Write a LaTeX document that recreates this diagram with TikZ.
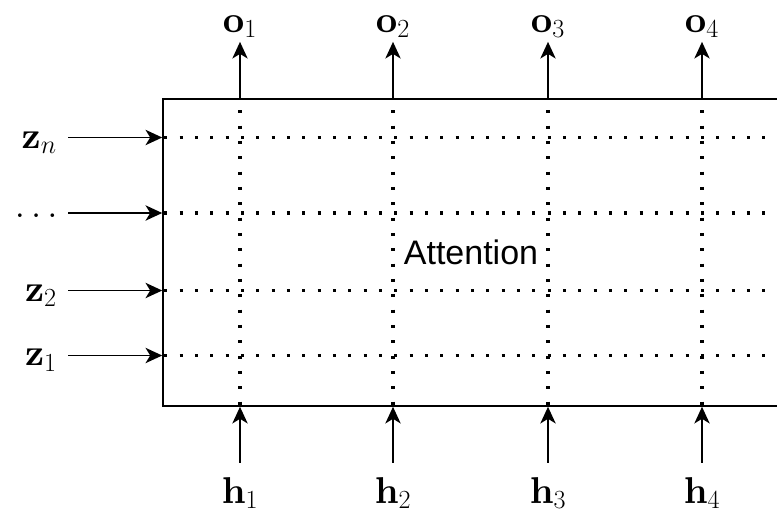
\RequirePackage{fix-cm}
\documentclass[tikz,border=0pt]{standalone}
\usepackage{amsmath}
\usepackage[no-math]{fontspec}
\DeclareFontShape{OT1}{cmr}{bx}{n}{<-> cmbx10}{}
\newfontfamily\attnfont{Liberation Sans}
\usetikzlibrary{positioning,arrows.meta}

\begin{document}
\begin{tikzpicture}[
  x=0.75pt, y=-0.75pt,
  every node/.style={font=\fontsize{28}{34}\selectfont},
  block/.style ={draw, line width=1.2pt, inner sep=0pt,
                 minimum width=462pt, minimum height=230.25pt,
                 font=\attnfont\fontsize{25.5}{30}\selectfont},
  grid/.style  ={line width=2.3pt, dash pattern=on 2.3pt off 9.2pt},
  arr/.style   ={-{Stealth[length=12.5pt,width=11.5pt,inset=3.5pt]},
                 line width=1.2pt},
  inlab/.style ={anchor=base east, inner sep=0pt},
  outlab/.style={anchor=base, inner sep=3pt},
  hlab/.style  ={anchor=base, inner xsep=3pt, inner ysep=10.5pt}
]
\useasboundingbox (0,0) rectangle (777,514);

\node[block] (attn) at (471,252.5) {Attention};

% inputs z on the left
\node[inlab] (zn)    at (57,148)   {$\mathbf{z}_n$};
\node[inlab] (zdots) at (58,217.5) {$\ldots$};
\node[inlab] (z2)    at (57,301)   {$\mathbf{z}_2$};
\node[inlab] (z1)    at (57,365.5) {$\mathbf{z}_1$};

\foreach \r/\y in {n/137.5,dots/213,2/290.5,1/355.5} {
  \coordinate (z\r-in) at (68,\y);
  \draw[arr] (z\r-in) -- (attn.west |- z\r-in);
  \draw[grid, dash phase=10pt] (attn.west |- z\r-in) -- (attn.east |- z\r-in);
}

% inputs h below, outputs o above
\foreach \i/\x in {1/240,2/393,3/548,4/702} {
  \node[hlab]   (h\i) at (\x,503) {$\mathbf{h}_\i$};
  \node[outlab] (o\i) at (\x,32)  {$\mathbf{o}_\i$};
  \draw[grid, dash phase=2.5pt] (attn.north -| h\i) -- (attn.south -| h\i);
  \draw[arr] (h\i) -- (attn.south -| h\i);
  \draw[arr] (attn.north -| o\i) -- (o\i);
}

\end{tikzpicture}
\end{document}
